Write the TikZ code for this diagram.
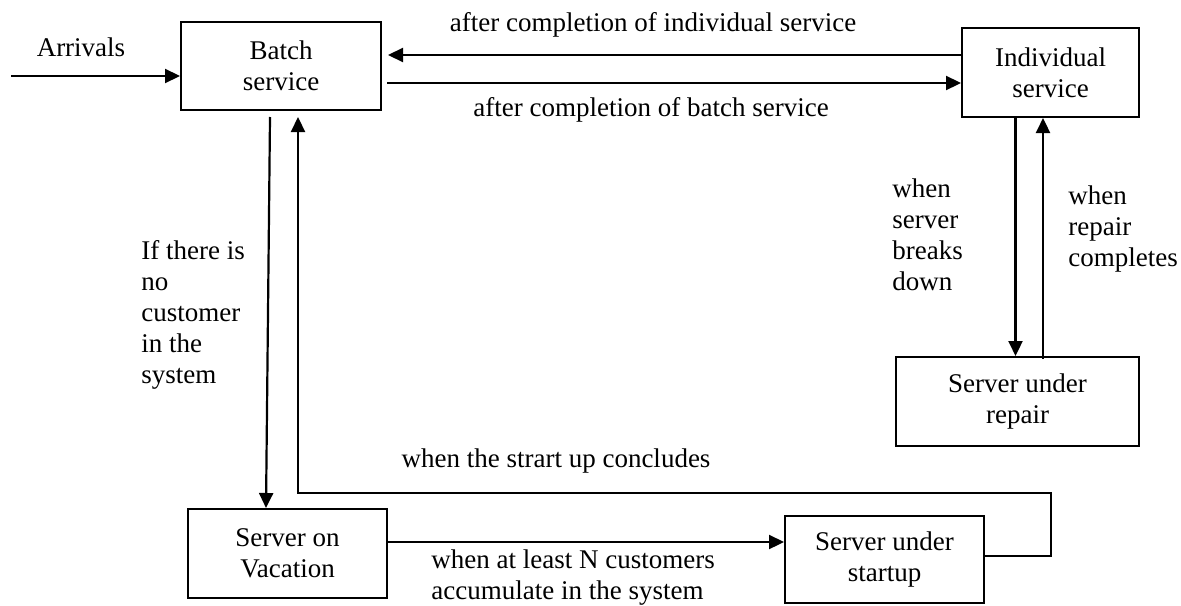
\documentclass[tikz,border=0pt]{standalone}
\usepackage{fontspec}
\setmainfont{Liberation Serif}
\usetikzlibrary{arrows.meta,calc}
\tikzstyle{box}=[rectangle, draw, line width=1pt, align=center, inner sep=0pt]
\tikzstyle{txt}=[inner sep=0pt, align=left]
\tikzstyle{arr}=[->, line width=1.1pt]

\begin{document}
\begin{tikzpicture}[x=0.5pt, y=-0.5pt, >={Triangle[length=7.5pt,width=7pt]},
  font=\fontsize{13.5}{15.5}\selectfont]
\useasboundingbox (0,0) rectangle (1181,605);
\draw (281,66) node[box, minimum width=100pt, minimum height=44pt] (batch) {Batch\\service};
\draw (1050.5,72.5) node[box, minimum width=88.5pt, minimum height=44.5pt] (indiv) {Individual\\service};
\draw (1017.5,401.5) node[box, minimum width=121.5pt, minimum height=44.5pt] (repair) {Server under\\repair};
\draw (287.5,553.5) node[box, minimum width=99.5pt, minimum height=44.5pt] (vacation) {Server on\\Vacation};
\draw (884.5,559.5) node[box, minimum width=99.5pt, minimum height=43.5pt] (startup) {Server under\\startup};
\coordinate (arrivals) at (11,76);

\draw (81,47) node[txt] (tarr) {Arrivals};
\draw (653,25) node[txt] (tindiv) {after completion of individual service};
\draw (651,110) node[txt] (tbatch) {after completion of batch service};
\draw (892,235) node[txt, anchor=west] (tbreak) {when\\server\\breaks\\down};
\draw (1068,229) node[txt, anchor=west] (trepair) {when\\repair\\completes};
\draw (141,315) node[txt, anchor=west] (tempty) {If there is\\no\\customer\\in the\\system};
\draw (556,461) node[txt] (tstart) {when the strart up concludes};
\draw (431,578) node[txt, anchor=west] (tN) {when at least N customers\\accumulate in the system};

\draw[arr] (arrivals) -- (batch.west |- arrivals);
\draw[arr] ($(indiv.west)+(0,-17.5)$) -- ($(batch.east)+(6,-11)$);
\draw[arr] ($(batch.east)+(5,17)$) -- ($(indiv.west)+(0,10.5)$);
\draw[arr] ($(batch.south)+(-11,6)$) -- ($(vacation.north)+(-21.5,0)$);
\draw[arr] ($(startup.east)+(0,-3.5)$) -| (1051,493) -| ($(batch.south)+(17,6)$);
\draw[arr] ($(vacation.east)+(0,-11.5)$) -- ($(startup.west)+(0,-17.5)$);
\draw[arr] ($(indiv.south)+(-35,0)$) -- ($(repair.north)+(-2,0)$);
\draw[arr] ($(repair.north)+(25.5,3)$) -- ($(indiv.south)+(-7.5,0)$);
\end{tikzpicture}
\end{document}
